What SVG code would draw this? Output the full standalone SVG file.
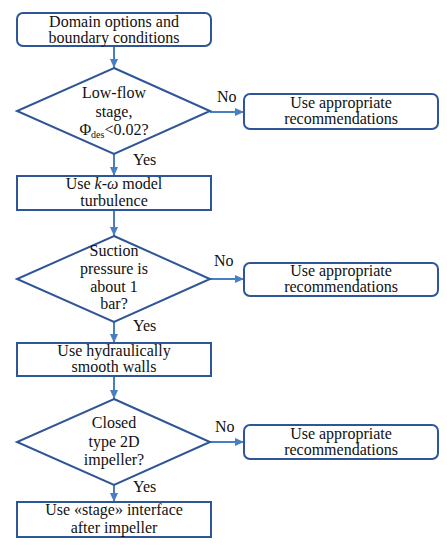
<svg xmlns="http://www.w3.org/2000/svg" width="447" height="550" viewBox="0 0 447 550">
<defs>
<marker id="ah" markerWidth="10" markerHeight="10" refX="9" refY="5" orient="auto" markerUnits="userSpaceOnUse">
<path d="M0,1 L9,5 L0,9 Z" fill="#4A7EC2"/>
</marker>
<style>
.box{fill:#fff;stroke:#2E5597;stroke-width:2}
.dia{fill:#fff;stroke:#2E5597;stroke-width:2}
.c{fill:none;stroke:#4A7EC2;stroke-width:2;marker-end:url(#ah)}
text{font-size:16px;fill:#111}
.m{text-anchor:middle}
</style>
</defs>
<rect width="447" height="550" fill="#fff"/>
<g font-family="Liberation Serif, Times New Roman, DejaVu Serif, serif">
<g id="connectors">
<line class="c" x1="114" y1="46" x2="114" y2="68"/>
<line class="c" x1="114" y1="154" x2="114" y2="176"/>
<line class="c" x1="114" y1="210" x2="114" y2="236"/>
<line class="c" x1="114" y1="322" x2="114" y2="343"/>
<line class="c" x1="114" y1="376" x2="114" y2="399"/>
<line class="c" x1="114" y1="485" x2="114" y2="502"/>
<line class="c" x1="210" y1="112" x2="244" y2="112"/>
<line class="c" x1="210" y1="279" x2="244" y2="279"/>
<line class="c" x1="210" y1="442" x2="244" y2="442"/>
<text x="217" y="102">No</text>
<text x="214" y="266">No</text>
<text x="215" y="432">No</text>
<text x="133" y="165">Yes</text>
<text x="133" y="331">Yes</text>
<text x="133" y="492">Yes</text>
</g>
<g id="start">
<rect class="box" x="17" y="13" width="194" height="33" rx="6"/>
<text class="m" x="114" y="27">Domain options and</text>
<text class="m" x="114" y="43">boundary conditions</text>
</g>
<g id="d1">
<polygon class="dia" points="114,68 210,111 114,154 17,111"/>
<text class="m" x="114" y="98">Low-flow</text>
<text class="m" x="114" y="117">stage,</text>
<text class="m" x="114" y="135">Φ<tspan font-size="10" dy="3">des</tspan><tspan dy="-3">&lt;0.02?</tspan></text>
</g>
<g id="r1">
<rect class="box" x="244" y="94" width="194" height="35" rx="6"/>
<text class="m" x="341" y="108">Use appropriate</text>
<text class="m" x="341" y="124">recommendations</text>
</g>
<g id="b2">
<rect class="box" x="17" y="176" width="194" height="34"/>
<text class="m" x="114" y="189">Use <tspan font-style="italic">k</tspan>-<tspan font-style="italic">ω</tspan> model</text>
<text class="m" x="114" y="206">turbulence</text>
</g>
<g id="d2">
<polygon class="dia" points="114,236 210,279 114,322 17,279"/>
<text class="m" x="114" y="256">Suction</text>
<text class="m" x="114" y="274">pressure is</text>
<text class="m" x="114" y="292">about 1</text>
<text class="m" x="114" y="309">bar?</text>
</g>
<g id="r2">
<rect class="box" x="244" y="263" width="194" height="33" rx="6"/>
<text class="m" x="341" y="276">Use appropriate</text>
<text class="m" x="341" y="292">recommendations</text>
</g>
<g id="b3">
<rect class="box" x="17" y="343" width="194" height="33"/>
<text class="m" x="114" y="356">Use hydraulically</text>
<text class="m" x="114" y="372">smooth walls</text>
</g>
<g id="d3">
<polygon class="dia" points="114,399 210,442 114,485 17,442"/>
<text class="m" x="114" y="428">Closed</text>
<text class="m" x="114" y="447">type 2D</text>
<text class="m" x="114" y="465">impeller?</text>
</g>
<g id="r3">
<rect class="box" x="244" y="425" width="194" height="34" rx="6"/>
<text class="m" x="341" y="439">Use appropriate</text>
<text class="m" x="341" y="455">recommendations</text>
</g>
<g id="b4">
<rect class="box" x="17" y="502" width="194" height="35"/>
<text class="m" x="114" y="515">Use «stage» interface</text>
<text class="m" x="114" y="533">after impeller</text>
</g>
</g>
</svg>
